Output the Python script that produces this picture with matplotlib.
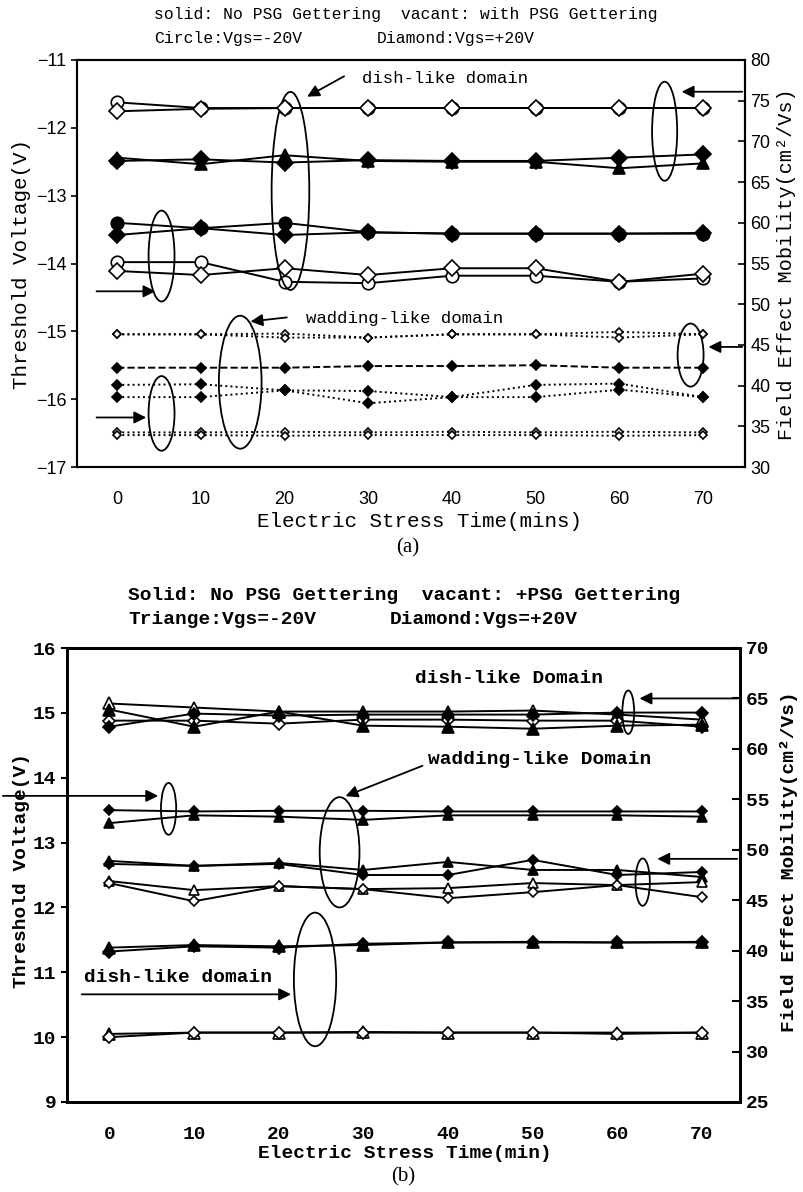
import matplotlib.pyplot as plt
from matplotlib.patches import Ellipse

plt.rcParams['font.family'] = 'Liberation Mono'

t = [0, 10, 20, 30, 40, 50, 60, 70]

# ---- (a) mobility, right axis
a_mu_vac_circle = [74.8, 74.1, 74.1, 74.1, 74.1, 74.1, 74.1, 74.1]
a_mu_vac_diamond = [73.7, 74.0, 74.1, 74.1, 74.1, 74.1, 74.1, 74.1]
a_mu_sol_triangle = [68.0, 67.2, 68.3, 67.6, 67.5, 67.5, 66.7, 67.3]
a_mu_sol_diamond = [67.6, 67.8, 67.4, 67.7, 67.6, 67.6, 68.0, 68.4]
a_mu_wad_vac1 = [46.3, 46.3, 46.4, 45.9, 46.3, 46.3, 46.6, 46.3]
a_mu_wad_vac2 = [46.3, 46.3, 45.9, 45.9, 46.3, 46.3, 45.9, 46.3]
a_mu_wad_sol = [42.2, 42.2, 42.2, 42.4, 42.4, 42.5, 42.2, 42.2]

# ---- (a) threshold voltage, left axis
a_vth_sol_circle = [-13.40, -13.48, -13.40, -13.54, -13.56, -13.56, -13.56, -13.56]
a_vth_sol_diamond = [-13.58, -13.48, -13.58, -13.54, -13.56, -13.56, -13.56, -13.55]
a_vth_vac_circle = [-13.98, -13.98, -14.27, -14.29, -14.18, -14.18, -14.27, -14.22]
a_vth_vac_diamond = [-14.11, -14.17, -14.07, -14.17, -14.07, -14.07, -14.27, -14.15]
a_vth_wad_sol1 = [-15.79, -15.78, -15.87, -15.88, -15.97, -15.79, -15.77, -15.97]
a_vth_wad_sol2 = [-15.97, -15.97, -15.87, -16.06, -15.97, -15.97, -15.86, -15.97]
a_vth_wad_vac1 = [-16.49, -16.49, -16.48, -16.49, -16.48, -16.49, -16.48, -16.49]
a_vth_wad_vac2 = [-16.53, -16.53, -16.54, -16.53, -16.53, -16.53, -16.54, -16.53]

# ---- (b) mobility, right axis
b_mu_sol_tri1 = [63.9, 62.2, 63.7, 62.3, 62.2, 62.0, 62.3, 62.4]
b_mu_sol_dia1 = [62.2, 63.5, 63.3, 63.4, 63.4, 63.4, 63.6, 63.6]
b_mu_vac_tri1 = [64.5, 64.1, 63.7, 63.7, 63.7, 63.8, 63.4, 62.9]
b_mu_vac_dia1 = [62.8, 62.8, 62.5, 62.9, 62.9, 62.8, 62.8, 62.2]
b_mu_sol_tri3 = [48.9, 48.4, 48.7, 48.0, 48.8, 48.0, 48.0, 47.3]
b_mu_sol_dia3 = [48.6, 48.4, 48.6, 47.5, 47.5, 49.0, 47.5, 47.8]
b_mu_vac_tri3 = [46.9, 46.0, 46.4, 46.1, 46.2, 46.7, 46.5, 46.8]
b_mu_vac_dia3 = [46.7, 44.9, 46.4, 46.1, 45.2, 45.8, 46.5, 45.3]

# ---- (b) threshold voltage, left axis
b_vth_sol_dia2 = [13.50, 13.48, 13.49, 13.49, 13.48, 13.48, 13.48, 13.48]
b_vth_sol_tri2 = [13.30, 13.42, 13.40, 13.35, 13.42, 13.42, 13.42, 13.40]
b_vth_sol_tri4 = [11.38, 11.42, 11.40, 11.42, 11.46, 11.46, 11.46, 11.46]
b_vth_sol_dia4 = [11.32, 11.40, 11.38, 11.44, 11.46, 11.47, 11.46, 11.47]
b_vth_vac_tri5 = [10.05, 10.07, 10.07, 10.08, 10.07, 10.07, 10.07, 10.07]
b_vth_vac_dia5 = [10.00, 10.07, 10.07, 10.07, 10.07, 10.07, 10.05, 10.07]


def line(ax, y, m, filled, ms, ls='-', lw=1.4):
    ax.plot(t, y, color='black', linestyle=ls, linewidth=lw, marker=m,
            markersize=ms, markerfacecolor='black' if filled else 'white',
            markeredgecolor='black', markeredgewidth=1.2, zorder=3)


def ellipse(ax, x, y, w, h):
    ax.add_patch(Ellipse((x, y), w, h, fill=False, edgecolor='black', linewidth=1.3, zorder=4))


def arrow(ax, start, end):
    ax.annotate('', xy=end, xytext=start, annotation_clip=False,
                arrowprops=dict(arrowstyle='-|>', color='black', lw=1.3, mutation_scale=18))


fig = plt.figure(figsize=(8.04, 11.92), dpi=100)
H = 1192

# ================= (a) =================
ax = fig.add_axes([77 / 804, 1 - 467 / H, 668 / 804, 407 / H])
ax2 = ax.twinx()
ax.set_xlim(-4.8, 75)
ax.set_ylim(-17, -11)
ax2.set_ylim(30, 80)

line(ax2, a_mu_vac_circle, 'o', False, 9)
line(ax2, a_mu_vac_diamond, 'D', False, 8)
line(ax2, a_mu_sol_triangle, '^', True, 9)
line(ax2, a_mu_sol_diamond, 'D', True, 8)
line(ax2, a_mu_wad_vac1, 'D', False, 4.5, ':')
line(ax2, a_mu_wad_vac2, 'D', False, 4.5, ':')
line(ax2, a_mu_wad_sol, 'D', True, 5, '--')

line(ax, a_vth_sol_circle, 'o', True, 9)
line(ax, a_vth_sol_diamond, 'D', True, 8)
line(ax, a_vth_vac_circle, 'o', False, 9)
line(ax, a_vth_vac_diamond, 'D', False, 8)
line(ax, a_vth_wad_sol1, 'D', True, 5, ':')
line(ax, a_vth_wad_sol2, 'D', True, 5, ':')
line(ax, a_vth_wad_vac1, 'D', False, 4.5, ':')
line(ax, a_vth_wad_vac2, 'D', False, 4.5, ':')

ellipse(ax, 20.7, -12.93, 4.5, 2.92)
ellipse(ax, 5.3, -13.89, 3.1, 1.34)
ellipse(ax, 65.4, -12.05, 3.0, 1.46)
ellipse(ax, 14.7, -15.75, 5.1, 1.96)
ellipse(ax, 5.3, -16.21, 3.1, 1.1)
ellipse(ax, 68.5, -15.35, 3.1, 0.93)

ax.text(29.2, -11.27, 'dish-like domain', fontsize=12.5, va='center')
arrow(ax, (27.4, -11.22), (22.4, -11.56))
ax.text(22.6, -14.81, 'wadding-like domain', fontsize=12.5, va='center')
arrow(ax, (20.6, -14.79), (15.6, -14.86))
arrow(ax, (-2.8, -14.41), (4.9, -14.41))
arrow(ax, (-2.8, -16.27), (3.8, -16.27))
arrow(ax2, (75, 76.1), (67.1, 76.1))
arrow(ax2, (75, 44.75), (70.3, 44.75))

ax.set_xticks(t)
ax.set_yticks(range(-17, -10))
ax2.set_yticks(range(30, 81, 5))
for lab in ax.get_xticklabels() + ax.get_yticklabels() + ax2.get_yticklabels():
    lab.set_fontfamily('Liberation Sans')
    lab.set_fontsize(13)
ax.tick_params(axis='x', length=0, pad=17)
ax.tick_params(axis='y', direction='out', length=4, width=1.2)
ax2.tick_params(axis='y', direction='in', length=5, width=1.2, pad=4)
for a in (ax, ax2):
    for s in a.spines.values():
        s.set_linewidth(1.5)

fig.text(22 / 804, 1 - 264 / H, 'Threshold Voltage(V)', fontsize=15, rotation=90, ha='center', va='center')
fig.text(787 / 804, 1 - 264 / H, 'Field Effect Mobility(cm²/Vs)', fontsize=14.5, rotation=90, ha='center', va='center')
fig.text(420 / 804, 1 - 521 / H, 'Electric Stress Time(mins)', fontsize=15, ha='center', va='center')
fig.text(408 / 804, 1 - 548 / H, '(a)', fontsize=15, family='Liberation Serif', ha='center', va='center')
fig.text(154 / 804, 1 - 14 / H, 'solid: No PSG Gettering  vacant: with PSG Gettering', fontsize=11.8, va='center')
fig.text(154 / 804, 1 - 38 / H, 'Circle:Vgs=-20V', fontsize=11.8, va='center')
fig.text(377 / 804, 1 - 38 / H, 'Diamond:Vgs=+20V', fontsize=11.8, va='center')

# ================= (b) =================
bx = fig.add_axes([67 / 804, 1 - 1102 / H, 673 / 804, 454 / H])
bx2 = bx.twinx()
bx.set_xlim(-5, 74.5)
bx.set_ylim(9, 16)
bx2.set_ylim(25, 70)

line(bx2, b_mu_vac_tri1, '^', False, 8)
line(bx2, b_mu_vac_dia1, 'D', False, 6)
line(bx2, b_mu_sol_tri1, '^', True, 9)
line(bx2, b_mu_sol_dia1, 'D', True, 6.5)
line(bx2, b_mu_sol_tri3, '^', True, 7)
line(bx2, b_mu_sol_dia3, 'D', True, 5.5)
line(bx2, b_mu_vac_tri3, '^', False, 7)
line(bx2, b_mu_vac_dia3, 'D', False, 5.5)

line(bx, b_vth_sol_dia2, 'D', True, 5.5)
line(bx, b_vth_sol_tri2, '^', True, 7)
line(bx, b_vth_sol_tri4, '^', True, 9)
line(bx, b_vth_sol_dia4, 'D', True, 6.5)
line(bx, b_vth_vac_tri5, '^', False, 8)
line(bx, b_vth_vac_dia5, 'D', False, 6)

ellipse(bx, 61.3, 15.01, 1.4, 0.67)
ellipse(bx, 27.2, 12.85, 4.7, 1.7)
ellipse(bx, 7.0, 13.52, 1.8, 0.8)
ellipse(bx, 63.0, 12.39, 1.7, 0.73)
ellipse(bx, 24.3, 10.89, 5.0, 2.06)

bold = dict(fontsize=14, fontweight='bold')
bx.text(36.1, 15.53, 'dish-like Domain', va='center', **bold)
bx.text(37.6, 14.28, 'wadding-like Domain', va='center', **bold)
bx.text(-3.0, 10.92, 'dish-like domain', va='center', **bold)
arrow(bx, (37.3, 14.2), (27.6, 13.7))
arrow(bx, (-12.9, 13.72), (6.1, 13.72))
arrow(bx, (-3.6, 10.66), (21.8, 10.66))
arrow(bx2, (74.5, 65.0), (62.3, 65.0))
arrow(bx2, (74.5, 49.1), (64.4, 49.1))

bx.set_xticks(t)
bx.set_yticks(range(9, 17))
bx2.set_yticks(range(25, 71, 5))
for lab in bx.get_xticklabels() + bx.get_yticklabels() + bx2.get_yticklabels():
    lab.set_fontsize(14)
    lab.set_fontweight('bold')
bx.tick_params(axis='x', length=0, pad=17)
bx.tick_params(axis='y', direction='out', length=4, width=1.5)
bx2.tick_params(axis='y', direction='in', length=6, width=1.5, pad=4)
for a in (bx, bx2):
    for s in a.spines.values():
        s.set_linewidth(2)

fig.text(22 / 804, 1 - 870 / H, 'Threshold Voltage(V)', rotation=90, ha='center', va='center', **bold)
fig.text(789 / 804, 1 - 862 / H, 'Field Effect Mobility(cm²/Vs)', rotation=90, ha='center', va='center', **bold)
fig.text(405 / 804, 1 - 1153 / H, 'Electric Stress Time(min)', ha='center', va='center', **bold)
fig.text(403 / 804, 1 - 1177 / H, '(b)', fontsize=15, family='Liberation Serif', ha='center', va='center')
fig.text(128 / 804, 1 - 595 / H, 'Solid: No PSG Gettering  vacant: +PSG Gettering', va='center', **bold)
fig.text(128 / 804, 1 - 620 / H, 'Triange:Vgs=-20V', va='center', **bold)
fig.text(390 / 804, 1 - 620 / H, 'Diamond:Vgs=+20V', va='center', **bold)

fig.savefig('out.png', dpi=100)
